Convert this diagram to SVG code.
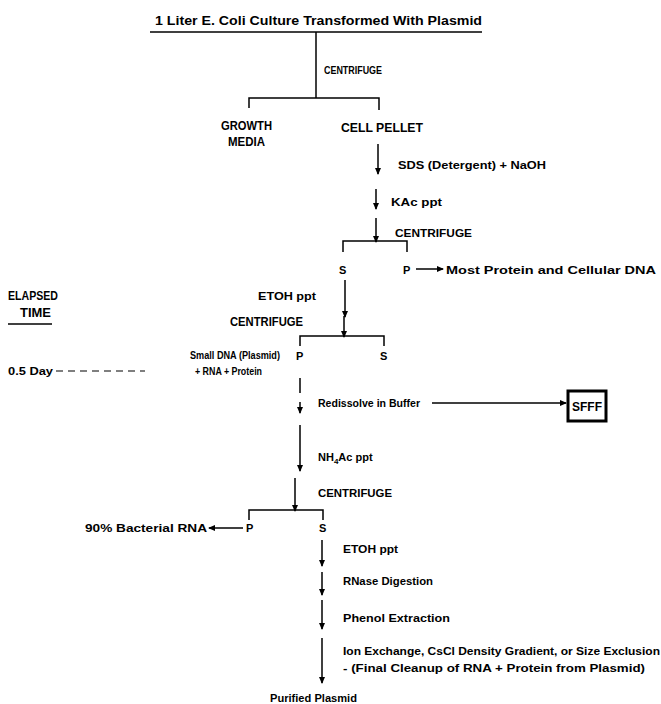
<svg xmlns="http://www.w3.org/2000/svg" width="661" height="704" viewBox="0 0 661 704">
<style>
text{font-family:"Liberation Sans",Arial,sans-serif;font-weight:bold;font-size:11px;fill:#000}
.big{font-size:12px}
.sm{font-size:10px}
.ln{stroke:#000;stroke-width:1.5;fill:none}
.arr{stroke:#000;stroke-width:1.5;fill:none;marker-end:url(#ah)}
.dash{stroke:#000;stroke-width:1.2;fill:none;stroke-dasharray:7 5}
</style>
<defs>
<marker id="ah" markerWidth="8" markerHeight="8" refX="6" refY="4" orient="auto" markerUnits="userSpaceOnUse">
<path d="M0,1 L7,4 L0,7 Z" fill="#000"/>
</marker>
</defs>
<rect width="661" height="704" fill="#fff"/>
<g id="connectors">
<line class="ln" x1="150" y1="32" x2="482" y2="32"/>
<line class="ln" x1="316" y1="32" x2="316" y2="98"/>
<polyline class="ln" points="249,108 249,98 379,98 379,110"/>
<line class="arr" x1="378" y1="144" x2="378" y2="174"/>
<line class="arr" x1="376" y1="189" x2="376" y2="209"/>
<line class="arr" x1="376" y1="218" x2="376" y2="242"/>
<polyline class="ln" points="343,252 343,241 407,241 407,252"/>
<line class="arr" x1="416" y1="269" x2="443" y2="269"/>
<line class="arr" x1="345" y1="280" x2="345" y2="317"/>
<line class="arr" x1="344" y1="316" x2="344" y2="337"/>
<polyline class="ln" points="300,346 300,336 384,336 384,346"/>
<line class="dash" x1="56" y1="371" x2="145" y2="371"/>
<line class="ln" x1="8" y1="324" x2="52" y2="324"/>
<line class="ln" x1="300" y1="378" x2="300" y2="393"/>
<line class="arr" x1="300" y1="402" x2="300" y2="413"/>
<line class="arr" x1="432" y1="403" x2="566" y2="403"/>
<line class="arr" x1="300" y1="425" x2="300" y2="471"/>
<line class="arr" x1="295" y1="478" x2="295" y2="511"/>
<polyline class="ln" points="249,520 249,510 323,510 323,520"/>
<line class="arr" x1="243" y1="528" x2="209" y2="528"/>
<line class="arr" x1="322" y1="540" x2="322" y2="566"/>
<line class="arr" x1="322" y1="572" x2="322" y2="595"/>
<line class="arr" x1="322" y1="600" x2="322" y2="629"/>
<line class="arr" x1="322" y1="638" x2="322" y2="683"/>
</g>
<g id="title"><text class="big" x="155" y="25" textLength="327" lengthAdjust="spacingAndGlyphs">1 Liter E. Coli Culture Transformed With Plasmid</text></g>
<g id="centrifuge1"><text x="324" y="74" textLength="58" lengthAdjust="spacingAndGlyphs">CENTRIFUGE</text></g>
<g id="growth-media"><text class="big" x="221" y="130" textLength="51" lengthAdjust="spacingAndGlyphs">GROWTH</text><text class="big" x="228" y="146" textLength="37" lengthAdjust="spacingAndGlyphs">MEDIA</text></g>
<g id="cell-pellet"><text class="big" x="341" y="132" textLength="82" lengthAdjust="spacingAndGlyphs">CELL PELLET</text></g>
<g id="sds"><text x="398" y="169" textLength="148" lengthAdjust="spacingAndGlyphs">SDS (Detergent) + NaOH</text></g>
<g id="kac"><text x="391" y="206" textLength="51" lengthAdjust="spacingAndGlyphs">KAc ppt</text></g>
<g id="centrifuge2"><text x="395" y="237" textLength="77" lengthAdjust="spacingAndGlyphs">CENTRIFUGE</text></g>
<g id="s1"><text x="339" y="274">S</text></g>
<g id="p1"><text x="403" y="274">P</text></g>
<g id="most-protein"><text x="446" y="274" textLength="210" lengthAdjust="spacingAndGlyphs">Most Protein and Cellular DNA</text></g>
<g id="etoh1"><text x="258" y="300" textLength="58" lengthAdjust="spacingAndGlyphs">ETOH ppt</text></g>
<g id="elapsed"><text class="big" x="8" y="300" textLength="50" lengthAdjust="spacingAndGlyphs">ELAPSED</text><text class="big" x="20" y="317" textLength="31" lengthAdjust="spacingAndGlyphs">TIME</text></g>
<g id="centrifuge3"><text class="big" x="230" y="326" textLength="73" lengthAdjust="spacingAndGlyphs">CENTRIFUGE</text></g>
<g id="p2"><text x="296" y="360">P</text></g>
<g id="s2"><text x="380" y="360">S</text></g>
<g id="small-dna"><text class="sm" x="190" y="359" textLength="90" lengthAdjust="spacingAndGlyphs">Small DNA (Plasmid)</text><text class="sm" x="195" y="375" textLength="67" lengthAdjust="spacingAndGlyphs">+ RNA + Protein</text></g>
<g id="day"><text x="8" y="375" textLength="45" lengthAdjust="spacingAndGlyphs">0.5 Day</text></g>
<g id="redissolve"><text x="318" y="407" textLength="102" lengthAdjust="spacingAndGlyphs">Redissolve in Buffer</text></g>
<g id="sfff"><rect x="568" y="391" width="38" height="30" fill="#fff" stroke="#000" stroke-width="3"/><text class="big" x="587" y="411" text-anchor="middle">SFFF</text></g>
<g id="nh4ac"><text x="318" y="461">NH<tspan font-size="8" dy="3">4</tspan><tspan dy="-3">Ac ppt</tspan></text></g>
<g id="centrifuge4"><text x="318" y="497" textLength="74" lengthAdjust="spacingAndGlyphs">CENTRIFUGE</text></g>
<g id="p3"><text x="246" y="532">P</text></g>
<g id="s3"><text x="319" y="532">S</text></g>
<g id="bacterial-rna"><text x="85" y="532" textLength="122" lengthAdjust="spacingAndGlyphs">90% Bacterial RNA</text></g>
<g id="etoh2"><text x="343" y="553" textLength="55" lengthAdjust="spacingAndGlyphs">ETOH ppt</text></g>
<g id="rnase"><text x="343" y="585" textLength="90" lengthAdjust="spacingAndGlyphs">RNase Digestion</text></g>
<g id="phenol"><text x="343" y="622" textLength="107" lengthAdjust="spacingAndGlyphs">Phenol Extraction</text></g>
<g id="ion-exchange"><text x="343" y="655" textLength="317" lengthAdjust="spacingAndGlyphs">Ion Exchange, CsCl Density Gradient, or Size Exclusion</text><text x="343" y="672" textLength="302" lengthAdjust="spacingAndGlyphs">- (Final Cleanup of RNA + Protein from Plasmid)</text></g>
<g id="purified"><text x="270" y="702" textLength="87" lengthAdjust="spacingAndGlyphs">Purified Plasmid</text></g>
</svg>
